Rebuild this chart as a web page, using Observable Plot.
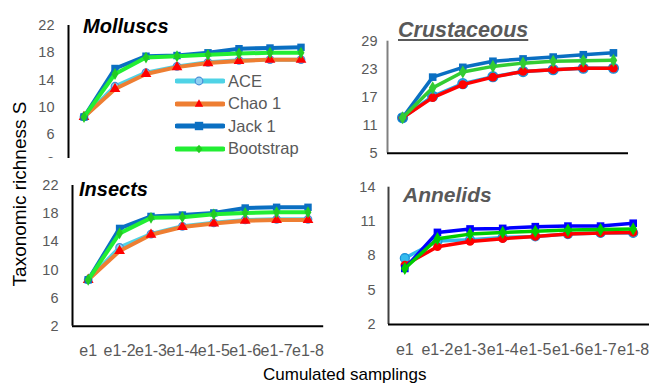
<!DOCTYPE html>
<html><head><meta charset="utf-8">
<script src="https://cdn.jsdelivr.net/npm/d3@7"></script>
<script src="https://cdn.jsdelivr.net/npm/@observablehq/plot@0.6"></script>
<style>
body{margin:0;background:#fff;}
#chart{position:relative;width:649px;height:385px;overflow:hidden;font-family:"Liberation Sans",Arial,sans-serif;background:#fff;}
.panel{position:absolute;overflow:hidden;}
.t{position:absolute;white-space:nowrap;line-height:1;}
.lg{position:absolute;left:175px;top:70px;}
.lgrow{display:flex;align-items:center;height:22.5px;}
.lgrow span{font-size:16.5px;color:#595959;margin-left:3px;}
</style></head><body><div id="chart"></div>
<script>
const samplings = ["e1","e1-2","e1-3","e1-4","e1-5","e1-6","e1-7","e1-8"];
const seriesNames = ["ACE","Chao 1","Jack 1","Bootstrap"];

const molluscsACE       = [8.6, 13.1, 15.1, 16.0, 16.6, 16.9, 17.0, 17.0];
const molluscsChao1     = [8.6, 12.7, 14.9, 15.9, 16.5, 16.8, 17.0, 17.0];
const molluscsJack1     = [8.6, 15.7, 17.5, 17.6, 18.0, 18.6, 18.7, 18.8];
const molluscsBootstrap = [8.6, 14.9, 17.3, 17.5, 17.7, 17.9, 18.0, 18.0];

const insectsACE       = [8.6, 13.2, 15.1, 16.2, 16.7, 17.1, 17.2, 17.2];
const insectsChao1     = [8.6, 12.7, 15.0, 16.1, 16.6, 17.0, 17.1, 17.1];
const insectsJack1     = [8.6, 15.9, 17.6, 17.8, 18.1, 18.8, 18.9, 18.9];
const insectsBootstrap = [8.6, 15.2, 17.4, 17.5, 17.9, 18.1, 18.2, 18.2];

const crustaceousACE       = [12.6, 17.2, 19.9, 21.4, 22.5, 22.9, 23.2, 23.2];
const crustaceousChao1     = [12.6, 16.9, 19.7, 21.3, 22.5, 22.9, 23.2, 23.2];
const crustaceousJack1     = [12.6, 21.3, 23.4, 24.7, 25.2, 25.6, 26.1, 26.5];
const crustaceousBootstrap = [12.6, 19.0, 22.4, 23.6, 24.3, 24.7, 24.8, 24.9];

const annelidsACE       = [7.8, 9.3, 9.4, 9.6, 9.7, 9.9, 10.0, 10.0];
const annelidsChao1     = [7.2, 8.8, 9.25, 9.5, 9.7, 9.9, 10.0, 10.05];
const annelidsJack1     = [6.9, 10.05, 10.35, 10.4, 10.55, 10.6, 10.6, 10.85];
const annelidsBootstrap = [6.9, 9.5, 9.9, 10.05, 10.15, 10.25, 10.3, 10.35];

const ticksLeft = [2, 6, 10, 14, 18, 22];
const ticksCrustaceous = [5, 11, 17, 23, 29];
const ticksAnnelids = [2, 5, 8, 11, 14];

const styleLeft = [
  {line:"#4fd3e6", symbol:"circle", fill:"#8fd0f2", stroke:"#4a8fd8", r:3.8},
  {line:"#ee7e32", symbol:"triangle", fill:"#ff0000", stroke:"none", r:4},
  {line:"#0a6fc2", symbol:"square", fill:"#0a6fc2", stroke:"none", r:4.2},
  {line:"#22ee33", symbol:"diamond", fill:"#22cc22", stroke:"none", r:3.6}
];
const styleCrus = [
  {line:"#1ea8e8", symbol:"circle", fill:"#1ea8e8", stroke:"#1a8fd8", r:5},
  {line:"#ff0000", symbol:"circle", fill:"#ff0000", stroke:"none", r:4.3},
  {line:"#0a6fc2", symbol:"square", fill:"#0a6fc2", stroke:"none", r:4.3},
  {line:"#33cc33", symbol:"diamond", fill:"#33cc33", stroke:"none", r:4}
];
const styleAnn = [
  {line:"#33bbee", symbol:"circle", fill:"#33bbee", stroke:"#1a8fd8", r:4.5},
  {line:"#ff0000", symbol:"circle", fill:"#ff0000", stroke:"none", r:4.3},
  {line:"#0000ff", symbol:"square", fill:"#0000ff", stroke:"none", r:4.3},
  {line:"#00cc00", symbol:"diamond", fill:"#00cc00", stroke:"none", r:4}
];

const FONT = "'Liberation Sans Narrow','Arial Narrow','Liberation Sans',Arial,sans-serif";
const chart = document.getElementById("chart");

function panel(o) {
  const marks = [];
  o.values.forEach((vals, k) => {
    const st = o.styles[k];
    const data = vals.map((v, i) => ({i, v, s: seriesNames[k]}));
    marks.push(Plot.line(data, {x:"i", y:"v", stroke: st.line, strokeWidth: o.lw}));
    marks.push(Plot.dot(data, {x:"i", y:"v", symbol: () => st.symbol, fill: st.fill, stroke: st.stroke, strokeWidth: 1.2, r: st.r}));
  });
  marks.push(Plot.ruleX([-0.5], {stroke: o.yAxisColor, strokeWidth: 2}));
  marks.push(Plot.ruleY([o.yDomain[0]], {stroke: "#000", strokeWidth: 2}));
  marks.push(Plot.axisY({ticks: o.yTicks, tickSize: 0, tickPadding: o.yPad, fontSize: 14.5, fontFamily: FONT, fill: "#595959", label: null}));
  if (o.showX) marks.push(Plot.axisX({ticks: d3.range(8), tickFormat: i => samplings[i], tickSize: 0, tickPadding: o.xPad, fontSize: 16, fontFamily: FONT, fill: "#595959", label: null}));
  const svg = Plot.plot({
    width: o.width, height: o.height,
    marginLeft: o.mL, marginRight: o.mR, marginTop: o.mT, marginBottom: o.mB,
    x: {type: "linear", domain: [-0.5, 7.5], axis: null, label: null},
    y: {domain: o.yDomain, axis: null, label: null},
    symbol: {type: "identity"},
    style: {background: "transparent", fontFamily: FONT, overflow: "visible"},
    marks
  });
  const div = document.createElement("div");
  div.className = "panel";
  div.style.left = o.left + "px";
  div.style.top = o.top + "px";
  div.style.width = o.width + "px";
  div.style.height = o.clipH + "px";
  div.appendChild(svg);
  chart.appendChild(div);
}

// Molluscs (clipped at the bottom, as in the reference)
panel({values:[molluscsACE, molluscsChao1, molluscsJack1, molluscsBootstrap], styles: styleLeft,
  yDomain:[2,22], yTicks: ticksLeft, left:0, top:0, width:330, height:190, clipH:158,
  mL:68, mR:14, mT:25, mB:28.5, yAxisColor:"#000", showX:false, yPad:14, lw:4});
// Crustaceous
panel({values:[crustaceousACE, crustaceousChao1, crustaceousJack1, crustaceousBootstrap], styles: styleCrus,
  yDomain:[5,29], yTicks: ticksCrustaceous, left:330, top:0, width:319, height:160, clipH:160,
  mL:57, mR:21, mT:40.7, mB:7.3, yAxisColor:"#808080", showX:false, yPad:10, lw:3.5});
// Insects
panel({values:[insectsACE, insectsChao1, insectsJack1, insectsBootstrap], styles: styleLeft,
  yDomain:[2,22], yTicks: ticksLeft, left:0, top:160, width:330, height:210, clipH:210,
  mL:72, mR:6.8, mT:25, mB:44.3, yAxisColor:"#000", showX:true, yPad:14, xPad:18, lw:4});
// Annelids
panel({values:[annelidsACE, annelidsChao1, annelidsJack1, annelidsBootstrap], styles: styleAnn,
  yDomain:[2,14], yTicks: ticksAnnelids, left:330, top:160, width:319, height:210, clipH:210,
  mL:58, mR:0, mT:26.7, mB:46, yAxisColor:"#404040", showX:true, yPad:13, xPad:19, lw:3.5});

function addText(txt, css) {
  const d = document.createElement("div");
  d.className = "t";
  d.textContent = txt;
  Object.assign(d.style, css);
  chart.appendChild(d);
  return d;
}
addText("Molluscs", {left:"83px", top:"15px", font:"bold italic 20px 'Liberation Sans',Arial,sans-serif", color:"#000"});
addText("Insects", {left:"79px", top:"178px", font:"bold italic 20px 'Liberation Sans',Arial,sans-serif", color:"#000"});
addText("Crustaceous", {left:"398px", top:"18px", font:"bold italic 21.5px 'Liberation Sans',Arial,sans-serif", color:"#595959", textDecoration:"underline"});
addText("Annelids", {left:"403px", top:"183px", font:"bold italic 21px 'Liberation Sans',Arial,sans-serif", color:"#595959"});
addText("Cumulated samplings", {left:"263px", top:"365px", font:"17px 'Liberation Sans',Arial,sans-serif", color:"#000"});
addText("Taxonomic richness S", {left:"20px", top:"194px", font:"19px 'Liberation Sans',Arial,sans-serif", color:"#000", transform:"translate(-50%,-50%) rotate(-90deg)"});

// Legend (inside Molluscs panel)
const lg = document.createElement("div");
lg.className = "lg";
const symPath = {
  circle: r => `<circle cx="24" cy="11" r="${r}"/>`,
  triangle: r => `<path d="M24,${11-r*1.2}L${24+r*1.05},${11+r*0.7}L${24-r*1.05},${11+r*0.7}Z"/>`,
  square: r => `<rect x="${24-r}" y="${11-r}" width="${2*r}" height="${2*r}"/>`,
  diamond: r => `<path d="M24,${11-r*1.2}L${24+r},11L24,${11+r*1.2}L${24-r},11Z"/>`
};
seriesNames.forEach((name, k) => {
  const st = styleLeft[k];
  const row = document.createElement("div");
  row.className = "lgrow";
  row.innerHTML = `<svg width="50" height="22"><line x1="2" x2="48" y1="11" y2="11" stroke="${st.line}" stroke-width="5" stroke-linecap="round"/><g fill="${st.fill}" stroke="${st.stroke}" stroke-width="1.2">${symPath[st.symbol](st.r)}</g></svg><span>${name}</span>`;
  lg.appendChild(row);
});
chart.appendChild(lg);
</script>
</body></html>
